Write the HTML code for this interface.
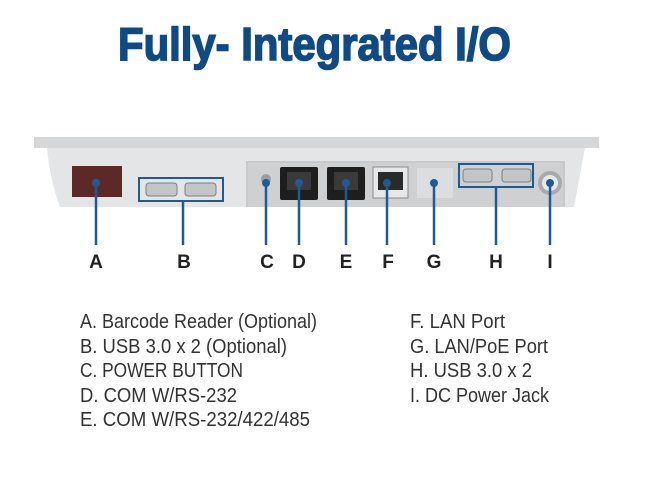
<!DOCTYPE html>
<html><head><meta charset="utf-8"><style>
html,body{margin:0;padding:0;background:#fff;width:648px;height:484px;overflow:hidden}
svg{display:block}
</style></head><body>
<svg width="648" height="484" viewBox="0 0 648 484" xmlns="http://www.w3.org/2000/svg">
<text x="118" y="60" font-family="Liberation Sans Narrow, Liberation Sans, sans-serif" font-weight="bold" font-size="46" fill="#0f4a85" stroke="#0f4a85" stroke-width="1.6" textLength="393" lengthAdjust="spacingAndGlyphs">Fully- Integrated I/O</text>

<!-- device -->
<rect x="34" y="137" width="565" height="11" fill="#d6d7d9"/>
<path d="M47 148 H585 L574 207 H60 Q50 180 47 148 Z" fill="#e4e5e7"/>
<rect x="246" y="161" width="319" height="46" fill="#c8c9cb"/>
<rect x="248" y="163" width="315" height="44" fill="#cfd0d2"/>
<rect x="72" y="166" width="50" height="31" fill="#5b2a27"/>
<!-- USB B -->
<rect x="139" y="178" width="84" height="23" fill="none" stroke="#1f5a96" stroke-width="2"/>
<rect x="146" y="183" width="31" height="13" rx="3" fill="#c4c5c7" stroke="#7e7f81"/>
<rect x="185" y="183" width="31" height="13" rx="3" fill="#c4c5c7" stroke="#7e7f81"/>
<!-- C button -->
<circle cx="266" cy="179" r="5" fill="#9c9d9f"/>
<!-- D, E -->
<rect x="280" y="167" width="38" height="33" rx="2" fill="#1e1e1e"/>
<rect x="287" y="172" width="24" height="18" fill="#3a3a3a"/>
<rect x="327" y="167" width="38" height="33" rx="2" fill="#1e1e1e"/>
<rect x="334" y="172" width="24" height="18" fill="#3a3a3a"/>
<!-- F -->
<rect x="373" y="167" width="35" height="31" fill="#e6e7e8" stroke="#8a8b8d"/>
<rect x="378" y="172" width="25" height="18" fill="#2a2a2a"/>
<!-- G -->
<rect x="417" y="168" width="36" height="30" fill="#dcdddf"/>
<!-- H -->
<rect x="459" y="164" width="74" height="23" fill="none" stroke="#1f5a96" stroke-width="2"/>
<rect x="463" y="169" width="29" height="13" rx="3" fill="#c4c5c7" stroke="#7e7f81"/>
<rect x="502" y="169" width="29" height="13" rx="3" fill="#c4c5c7" stroke="#7e7f81"/>
<!-- I -->
<circle cx="550" cy="183" r="12" fill="#a9aaac"/>
<circle cx="550" cy="183" r="8" fill="#e8e9ea"/>

<!-- leaders -->
<g stroke="#1f5a96" stroke-width="2.5">
<line x1="96" y1="183" x2="96" y2="245"/>
<line x1="183" y1="202" x2="183" y2="245"/>
<line x1="266" y1="183" x2="266" y2="245"/>
<line x1="299" y1="183" x2="299" y2="245"/>
<line x1="346" y1="183" x2="346" y2="245"/>
<line x1="387" y1="183" x2="387" y2="245"/>
<line x1="434" y1="183" x2="434" y2="245"/>
<line x1="496" y1="188" x2="496" y2="245"/>
<line x1="550" y1="183" x2="550" y2="245"/>
</g>
<g fill="#1f5a96">
<circle cx="96" cy="183" r="4"/><circle cx="266" cy="183" r="4"/><circle cx="299" cy="183" r="4"/>
<circle cx="346" cy="183" r="4"/><circle cx="387" cy="183" r="4"/><circle cx="434" cy="183" r="4"/>
<circle cx="550" cy="183" r="4"/>
</g>
<g font-family="Liberation Sans, sans-serif" font-weight="bold" font-size="19" fill="#222" text-anchor="middle">
<text x="96" y="268">A</text><text x="184" y="268">B</text><text x="267" y="268">C</text>
<text x="299" y="268">D</text><text x="346" y="268">E</text><text x="388" y="268">F</text>
<text x="434" y="268">G</text><text x="496" y="268">H</text><text x="550" y="268">I</text>
</g>
<g font-family="Liberation Sans Narrow, Liberation Sans, sans-serif" font-size="20" fill="#333">
<text x="80" y="328" textLength="237" lengthAdjust="spacingAndGlyphs">A. Barcode Reader (Optional)</text>
<text x="80" y="353" textLength="207" lengthAdjust="spacingAndGlyphs">B. USB 3.0 x 2 (Optional)</text>
<text x="80" y="377" textLength="163" lengthAdjust="spacingAndGlyphs">C. POWER BUTTON</text>
<text x="80" y="402" textLength="157" lengthAdjust="spacingAndGlyphs">D. COM W/RS-232</text>
<text x="80" y="426" textLength="230" lengthAdjust="spacingAndGlyphs">E. COM W/RS-232/422/485</text>
<text x="410" y="328" textLength="95" lengthAdjust="spacingAndGlyphs">F. LAN Port</text>
<text x="410" y="353" textLength="138" lengthAdjust="spacingAndGlyphs">G. LAN/PoE Port</text>
<text x="410" y="377" textLength="122" lengthAdjust="spacingAndGlyphs">H. USB 3.0 x 2</text>
<text x="410" y="402" textLength="139" lengthAdjust="spacingAndGlyphs">I. DC Power Jack</text>
</g>
</svg>
</body></html>
